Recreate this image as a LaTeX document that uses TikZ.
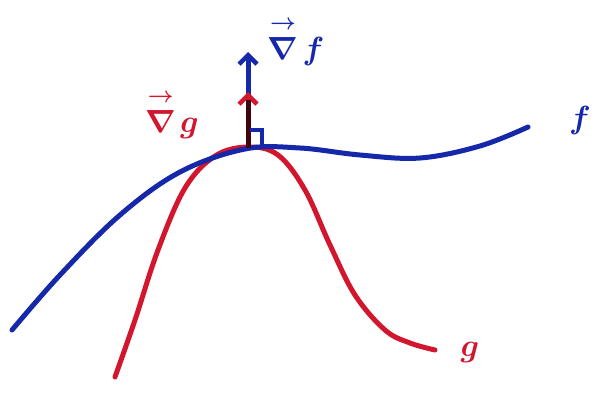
\RequirePackage{fix-cm}
\documentclass[tikz,border=0pt]{standalone}
\usepackage{amsmath}
\usetikzlibrary{arrows.meta}
\definecolor{mblue}{RGB}{22,40,170}
\definecolor{mred}{RGB}{210,22,45}
\newcommand{\vnab}{\overset{\raisebox{4pt}{$\scriptstyle\boldsymbol{\rightarrow}$}}{\nabla}\mskip2mu}
\begin{document}
\begin{tikzpicture}[x=1pt,y=-1pt,
  curve/.style={line width=5pt,line cap=round,line join=round},
  grad/.style={line width=5pt,-{Straight Barb[length=9pt,width=18pt,line width=4.5pt]}},
  lab/.style={font=\fontsize{32}{34}\selectfont\boldmath}]
\useasboundingbox (0,0) rectangle (615,404);
% g curve
\draw[curve,mred] plot[smooth,tension=0.6] coordinates {(115,377) (135,320) (158,250) (185,188) (215,156) (248,147) (278,155) (305,190) (330,245) (355,295) (385,330) (410,343) (435,350)};
% f curve
\draw[curve,mblue] plot[smooth,tension=0.6] coordinates {(12,330) (60,275) (120,215) (180,172) (245,149) (300,148) (360,155) (420,158) (480,146) (528,127)};
\coordinate (P) at (248,148);
\coordinate (Tf) at (248,52);
\coordinate (Tg) at (248,92);
\draw[grad,mblue] (P) -- (Tf);
\draw[grad,mred] (P) -- (Tg);
\draw[line width=5pt,color=black!70!mred] (P) -- (248,100);
\draw[mblue,line width=3.5pt] (250,130) -- (262,130) -- (262,146);
\node[lab,mblue] (nf) at (296,42) {$\vnab f$};
\node[lab,mred] (ng) at (172,115) {$\vnab g$};
\node[lab,mblue] (f) at (580,120) {$f$};
\node[lab,mred] (g) at (470,352) {$g$};
\end{tikzpicture}
\end{document}
